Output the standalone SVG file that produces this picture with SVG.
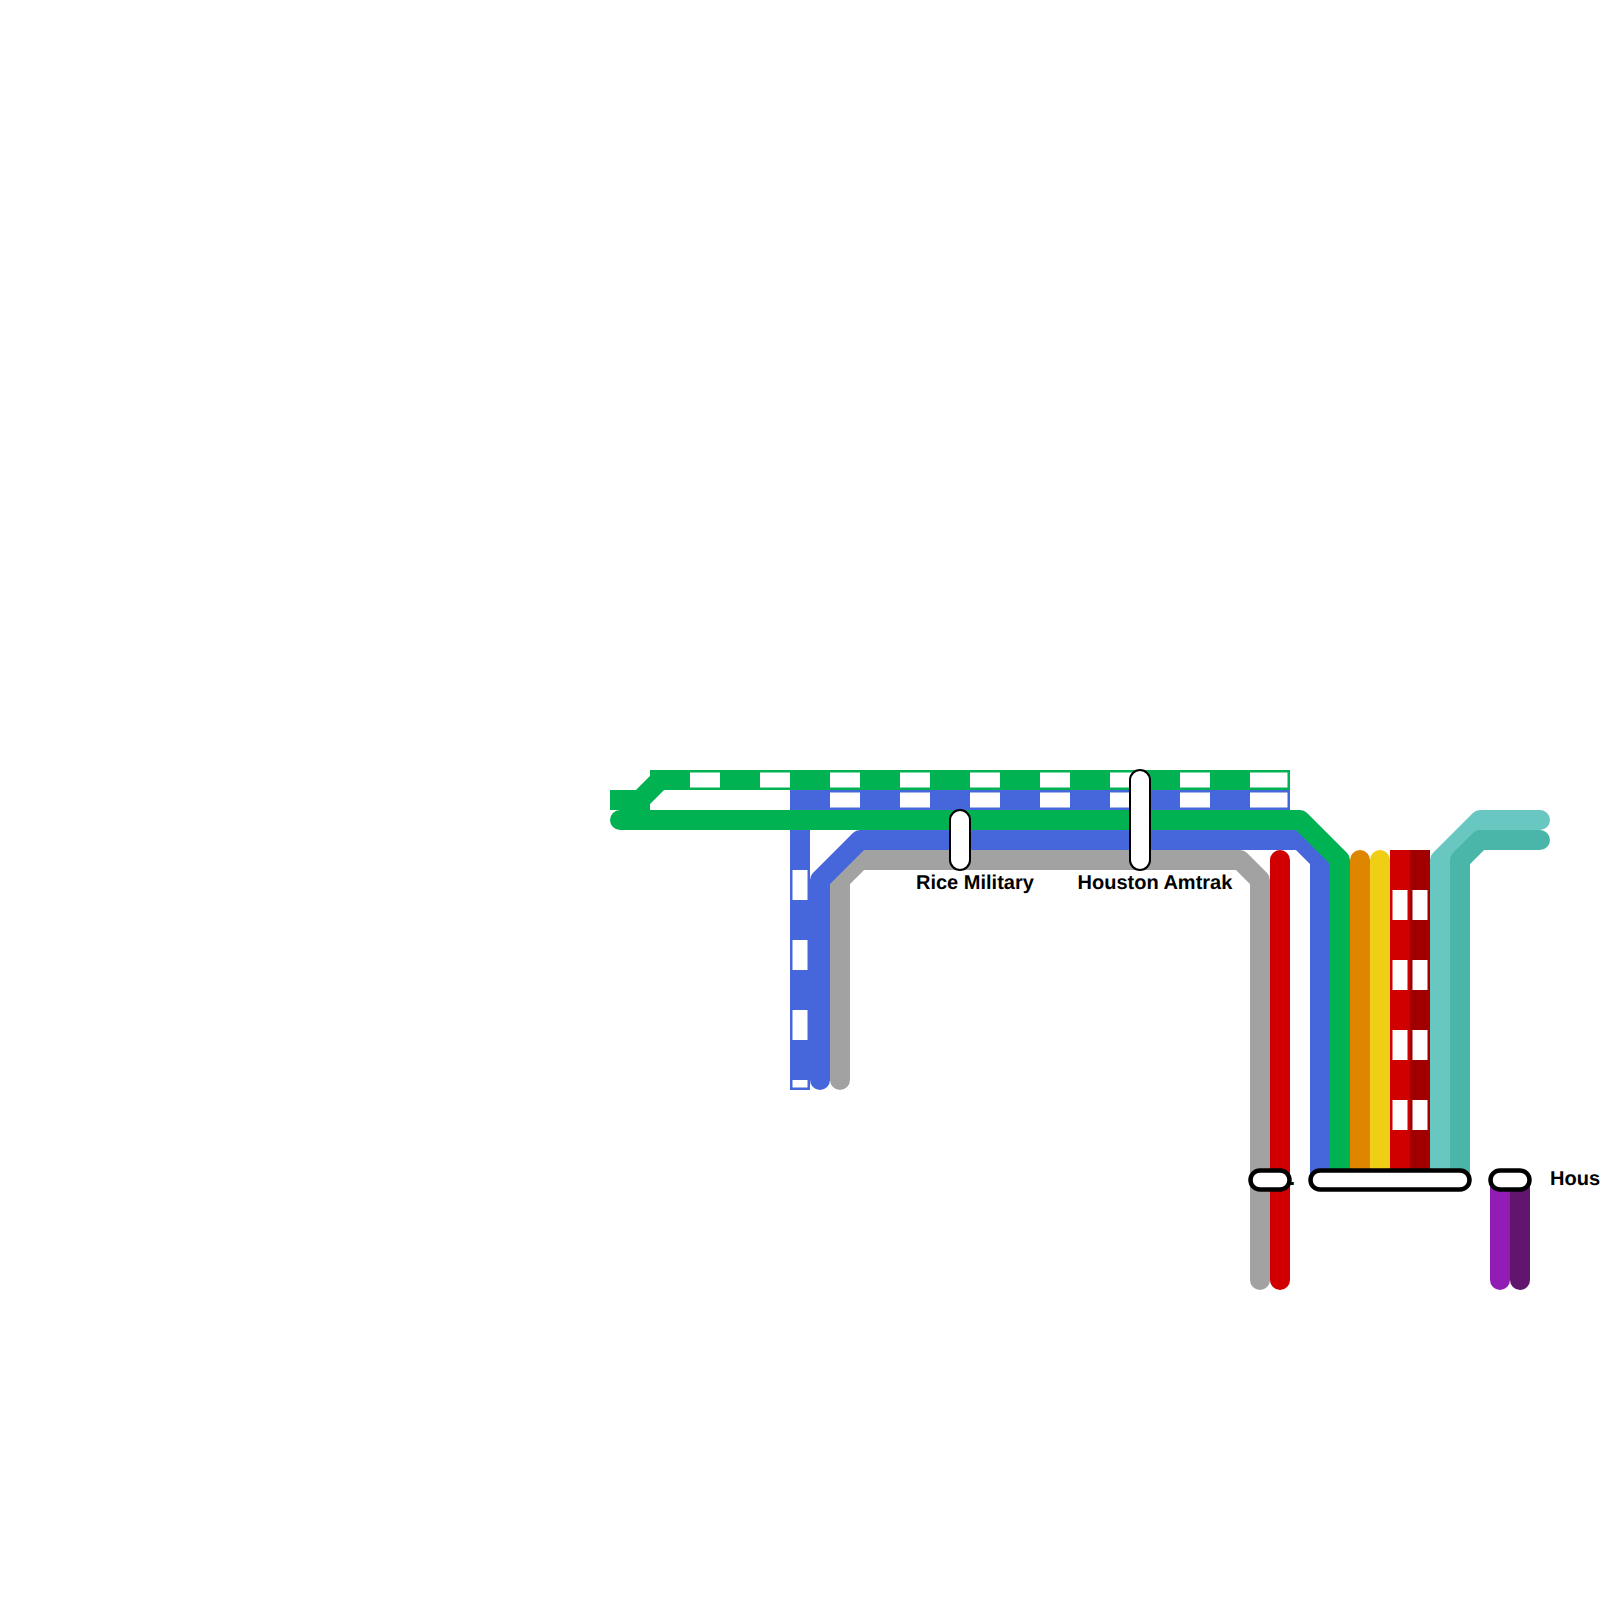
<svg xmlns="http://www.w3.org/2000/svg" width="1600" height="1600" viewBox="0 0 1600 1600">
<style>
.l{fill:none;stroke-width:20;stroke-linejoin:round}
.r{stroke-linecap:round}
.d{fill:none;stroke:#fff;stroke-width:15;stroke-dasharray:30 40}
.w{fill:none;stroke:#fff;stroke-width:15}
.s{fill:#fff;stroke:#000;stroke-width:2}
.t{fill:#fff;stroke:#000;stroke-width:4.500}
text{font-family:"Liberation Sans",Arial,sans-serif;font-weight:700;font-size:20px;fill:#000;text-rendering:geometricPrecision}
.green{stroke:#00b251}.blue{stroke:#4666db}.gray{stroke:#a2a2a2}.red{stroke:#d00000}.dred{stroke:#a20000}
.orange{stroke:#df8600}.yellow{stroke:#f0ce15}.lteal{stroke:#68c7c0}.dteal{stroke:#4ab5a9}.purple{stroke:#911db4}.dpurple{stroke:#61156f}
</style>
<g id="connectors">
<path class="l gray r" d="M840 1080V880L860 860H1240L1260 880V1280"/>
<path class="l blue" d="M790 800H1290M800 800V1090"/>
<path class="d" d="M830 800H1240"/><path class="w" d="M1250 800H1287.500"/>
<path class="d" d="M800 870V1087.500"/>
<path class="l blue r" d="M820 1080V880L860 840H1300L1320 860V1180"/>
<path class="l green" d="M610 800H650"/>
<path class="l green" d="M640 800L660 780"/>
<path class="l green" d="M650 780H1290"/>
<path class="d" d="M690 780H1240"/><path class="w" d="M1250 780H1287.500"/>
<path class="l green r" d="M620 820H1300L1340 860V1180"/>
<path class="l orange r" d="M1360 860V1180"/>
<path class="l yellow r" d="M1380 860V1180"/>
<path class="l red" d="M1400 850V1180"/>
<path class="l dred" d="M1420 850V1180"/>
<path class="d" d="M1400 890V1130"/>
<path class="d" d="M1420 890V1130"/>
<path class="l lteal r" d="M1540 820H1480L1440 860V1180"/>
<path class="l dteal r" d="M1540 840H1480L1460 860V1180"/>
<path class="l red r" d="M1280 860V1280"/>
<path class="l purple r" d="M1500 1180V1280"/>
<path class="l dpurple r" d="M1520 1180V1280"/>
</g>
<g id="rice-military"><rect class="s" x="950" y="810" width="20" height="60" rx="10"/><text x="916" y="889">Rice Military</text></g>
<g id="houston-amtrak"><rect class="s" x="1130" y="770" width="20" height="100" rx="10"/><text x="1077.500" y="889">Houston Amtrak</text></g>
<g id="station-a"><text x="1289.500" y="1184.500">.</text><rect class="t" x="1250.500" y="1170.500" width="39" height="19" rx="9.500"/></g>
<g id="station-b"><rect class="t" x="1310.500" y="1170.500" width="159" height="19" rx="9.500"/></g>
<g id="station-c"><rect class="t" x="1490.500" y="1170.500" width="39" height="19" rx="9.500"/><text x="1550" y="1184.500">Hous</text></g>
</svg>
